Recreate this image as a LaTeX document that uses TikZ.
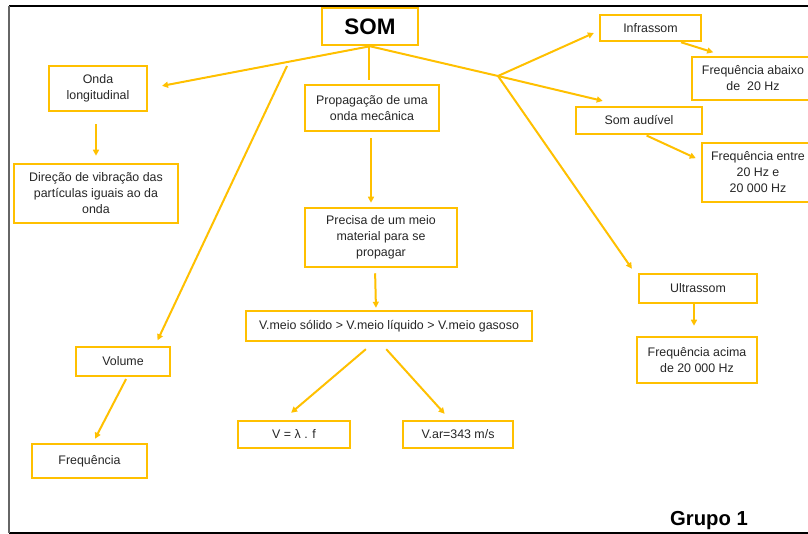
\documentclass[tikz,border=0pt]{standalone}
\usepackage{fontspec}
\setmainfont{Liberation Sans}
\usetikzlibrary{arrows.meta}
\definecolor{mapyellow}{HTML}{FFC000}
\definecolor{maptext}{HTML}{262626}
\begin{document}
\begin{tikzpicture}[x=0.75pt,y=-0.75pt,
  box/.style={draw=mapyellow,line width=1.9pt,fill=white,inner sep=0pt,
    align=center,text=maptext,font=\fontsize{9.3}{12}\selectfont},
  bx/.style 2 args={minimum width=#1*0.75pt,minimum height=#2*0.75pt},
  link/.style={draw=mapyellow,line width=1.5pt},
  arr/.style={link,-{Triangle[length=4.5pt,width=4.5pt]}},
  frameline/.style={line width=1.1pt}]
\useasboundingbox (0,0) rectangle (808,534);
\clip (0,0) rectangle (808,534);

% outer frame
\draw[frameline,black] (9,6) -- (808,6);
\draw[frameline,black] (9,533) -- (808,533);
\draw[line width=1.6pt,black!60] (9,6) -- (9,533);

% boxes
\node[box,bx={96}{37},font=\bfseries\fontsize{16.8}{20}\selectfont,text=black] (som) at (370,26.5) {SOM};
\node[box,bx={98}{45}] (onda) at (98,88.5) {Onda\\longitudinal};
\node[box,bx={164}{59}] (dir) at (96,193.5) {Direção de vibração das\\partículas iguais ao da\\onda};
\node[box,bx={134}{46}] (prop) at (372,108) {Propagação de uma\\onda mecânica};
\node[box,bx={152}{59}] (prec) at (381,237.5) {Precisa de um meio\\material para se\\propagar};
\node[box,bx={286}{30}] (vmeio) at (389,326) {V.meio sólido > V.meio líquido > V.meio gasoso};
\node[box,bx={112}{27}] (vlf) at (294,434.5) {V = λ . f};
\node[box,bx={110}{27}] (var) at (458,434.5) {V.ar=343 m/s};
\node[box,bx={94}{29}] (vol) at (123,361.5) {Volume};
\node[box,bx={115}{34}] (freq) at (89.5,461) {Frequência};
\node[box,bx={101}{26}] (infra) at (650.5,28) {Infrassom};
\node[box,bx={122}{43}] (fab) at (753,78.5) {Frequência abaixo\\de\ \ 20 Hz};
\node[box,bx={126}{27}] (aud) at (639,120.5) {Som audível};
\node[box,bx={112}{59}] (fent) at (758,172.5) {Frequência entre\\20 Hz e\\20 000 Hz};
\node[box,bx={118}{29}] (ultra) at (698,288.5) {Ultrassom};
\node[box,bx={120}{46}] (facima) at (697,360) {Frequência acima\\de 20 000 Hz};
\node[font=\bfseries\fontsize{15.2}{18}\selectfont,text=black] (grupo) at (709,521) {Grupo 1};

% branch points
\coordinate (vstart) at (287,66);
\coordinate (split) at (498,76);

% connectors
\draw[arr,shorten >=10.5pt] (som.south) -- (onda.east);
\draw[arr,shorten >=4.5pt] (vstart) -- ([xshift=24pt]vol.north);
\draw[link,shorten >=3pt] ([xshift=-0.75pt]som.south) -- ([xshift=-2.25pt]prop.north);
\draw[arr,shorten <=4.5pt,shorten >=3pt] ([xshift=-0.75pt]prop.south) -- ([xshift=-7.5pt]prec.north);
\draw[arr,shorten <=3.75pt,shorten >=1.5pt] ([xshift=-4.5pt]prec.south) -- ([xshift=-9.75pt]vmeio.north);
\draw[arr,shorten <=8pt,shorten >=8pt] ([xshift=-11.25pt]vmeio.south) -- ([xshift=-8.25pt]vlf.north);
\draw[arr,shorten <=7pt,shorten >=6pt] ([xshift=-6.75pt]vmeio.south) -- ([xshift=-6pt]var.north);
\draw[arr,shorten <=1.5pt,shorten >=3.4pt] ([xshift=3pt]vol.south) -- ([xshift=2.6pt]freq.north);
\draw[arr,shorten <=9pt,shorten >=5.25pt] ([xshift=-1.5pt]onda.south) -- (dir.north);
\draw[link] (som.south) -- (split);
\draw[arr,shorten >=4pt] (split) -- ([yshift=-2.1pt]infra.west);
\draw[arr,shorten >=15.6pt] (split) -- ([xshift=-12pt]aud.north);
\draw[arr,shorten >=3.7pt] (split) -- ([xshift=-2.25pt]ultra.north west);
\draw[arr,shorten >=8.5pt] ([xshift=22.9pt]infra.south) -- ([xshift=-21.75pt]fab.north);
\draw[arr,shorten <=0.5pt,shorten >=4.1pt] ([xshift=5.25pt]aud.south) -- ([yshift=9pt]fent.west);
\draw[arr,shorten >=7.5pt] ([xshift=-3pt]ultra.south) -- ([xshift=-2.25pt]facima.north);
\end{tikzpicture}
\end{document}
